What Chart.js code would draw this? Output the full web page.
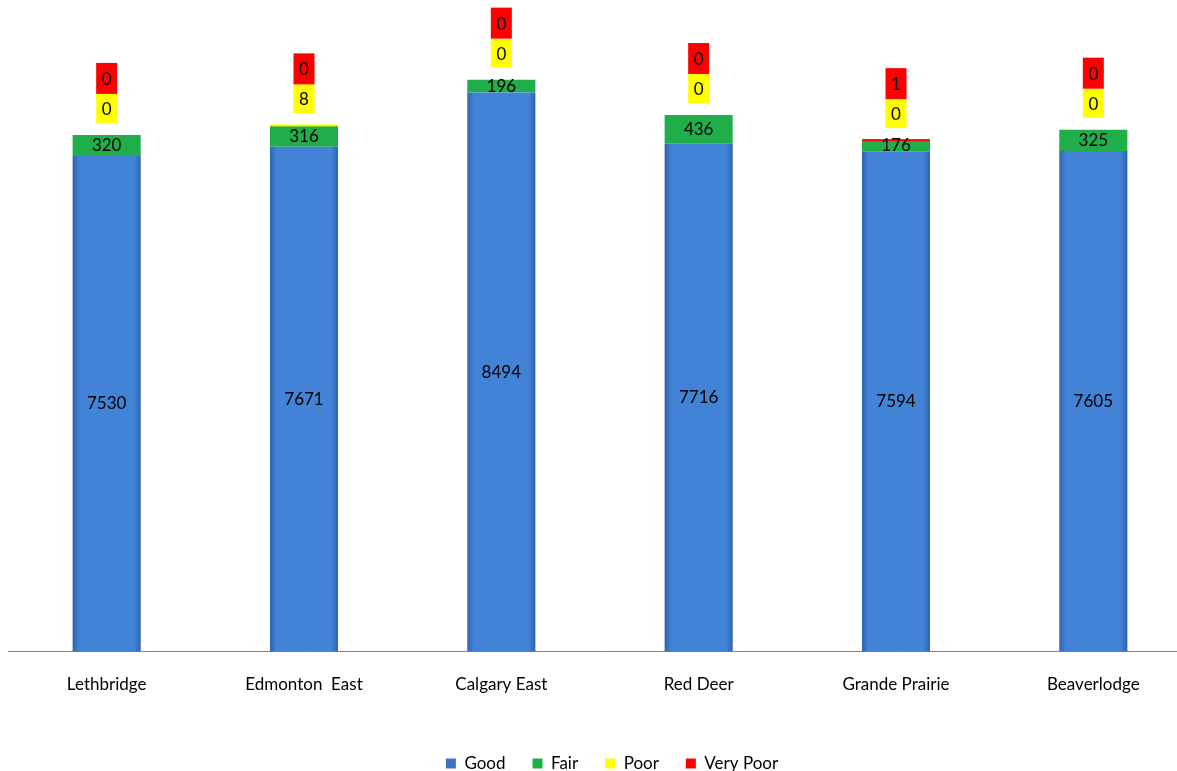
<!DOCTYPE html>
<html>
<head>
<meta charset="utf-8">
<script src="https://cdn.jsdelivr.net/npm/chart.js@4/dist/chart.umd.min.js"></script>
<style>
  html, body { margin: 0; padding: 0; background: #fff; overflow: hidden; }
  #wrap { position: relative; width: 1192px; height: 771px; }
</style>
</head>
<body>
<div id="wrap"><canvas id="chart"></canvas></div>
<script>
// stations and air quality hour counts
var stations = ["Lethbridge", "Edmonton  East", "Calgary East", "Red Deer", "Grande Prairie", "Beaverlodge"];
var good = [7530, 7671, 8494, 7716, 7594, 7605];
var fair = [320, 316, 196, 436, 176, 325];
var poor = [0, 8, 0, 0, 0, 0];
var veryPoor = [0, 0, 0, 0, 1, 0];

var FONT = "Lato";
var COLS = ["#3a74c4", "#1fae4a", "#ffff00", "#ff0000"];

function blueFill(ctx) {
    var chart = ctx.chart;
    var xs = chart.scales.x;
    if (!xs || ctx.dataIndex === undefined) return "#3f7fd3";
    var x = xs.getPixelForValue(ctx.dataIndex);
    var g = chart.ctx.createLinearGradient(x - 34, 0, x + 34, 0);
    g.addColorStop(0, "#2f64ae");
    g.addColorStop(0.1, "#4283d8");
    g.addColorStop(0.9, "#4283d8");
    g.addColorStop(1, "#2f64ae");
    return g;
}

// value labels inside good/fair, coloured boxes above the stack for poor/very poor
var valueLabels = {
    id: "valueLabels",
    afterLayout: function (chart) {
        var lg = chart.legend;
        lg.left += 12;
        lg.right += 12;
    },
    afterDatasetsDraw: function (chart) {
        var c = chart.ctx;
        c.save();
        // tiny poor / very poor slices still show as a thin line
        [2, 3].forEach(function (di) {
            chart.getDatasetMeta(di).data.forEach(function (bar, i) {
                var v = chart.data.datasets[di].data[i];
                if (v > 0) {
                    var h = Math.max(2, Math.abs(bar.base - bar.y));
                    c.fillStyle = COLS[di];
                    c.fillRect(bar.x - bar.width / 2, Math.min(bar.y, bar.base) - h + 1, bar.width, h);
                }
            });
        });
        c.font = "17px " + FONT;
        c.textAlign = "center";
        c.textBaseline = "middle";
        [0, 1].forEach(function (di) {
            chart.getDatasetMeta(di).data.forEach(function (bar, i) {
                var v = chart.data.datasets[di].data[i];
                var mid = (bar.y + bar.base) / 2;
                c.fillStyle = "#000";
                c.fillText(String(v), bar.x, mid);
            });
        });
        chart.getDatasetMeta(3).data.forEach(function (bar, i) {
            var top = Math.min(bar.y, bar.base);
            var x = bar.x;
            var yb = top - 12;
            var items = [
                { v: poor[i], col: COLS[2], h: 29 },
                { v: veryPoor[i], col: COLS[3], h: 31 }
            ];
            items.forEach(function (it) {
                var w = 21;
                c.fillStyle = it.col;
                c.fillRect(x - w / 2, yb - it.h, w, it.h);
                c.fillStyle = "#000";
                c.fillText(String(it.v), x, yb - it.h / 2 + 1);
                yb -= it.h;
            });
        });
        c.restore();
    }
};

new Chart(document.getElementById("chart"), {
    type: "bar",
    data: {
        labels: stations,
        datasets: [
            { label: "Good", data: good, backgroundColor: blueFill, borderWidth: 0 },
            { label: "Fair", data: fair, backgroundColor: COLS[1], borderWidth: 0 },
            { label: "Poor", data: poor, backgroundColor: COLS[2], borderWidth: 0 },
            { label: "Very Poor", data: veryPoor, backgroundColor: COLS[3], borderWidth: 0 }
        ]
    },
    options: {
        responsive: true,
        maintainAspectRatio: false,
        animation: false,
        layout: { padding: { left: 8, right: 0, top: 0, bottom: -11 } },
        datasets: { bar: { barPercentage: 0.345, categoryPercentage: 1 } },
        scales: {
            x: {
                stacked: true,
                grid: { display: false, drawTicks: false },
                border: { color: "#7f7f7f", width: 1 },
                ticks: { color: "#000", padding: 23, font: { family: FONT, size: 17 } },
                afterFit: function (scale) { scale.height += 10; }
            },
            y: {
                stacked: true,
                min: 0,
                max: 9900,
                display: false
            }
        },
        plugins: {
            legend: {
                position: "bottom",
                labels: {
                    color: "#000",
                    boxWidth: 10,
                    boxHeight: 10,
                    padding: 27,
                    font: { family: FONT, size: 17 },
                    generateLabels: function (chart) {
                        return chart.data.datasets.map(function (ds, i) {
                            return { text: ds.label, fillStyle: COLS[i], strokeStyle: COLS[i], lineWidth: 0, datasetIndex: i, fontColor: "#000" };
                        });
                    }
                }
            },
            tooltip: { enabled: false }
        }
    },
    plugins: [valueLabels]
});
</script>
</body>
</html>
